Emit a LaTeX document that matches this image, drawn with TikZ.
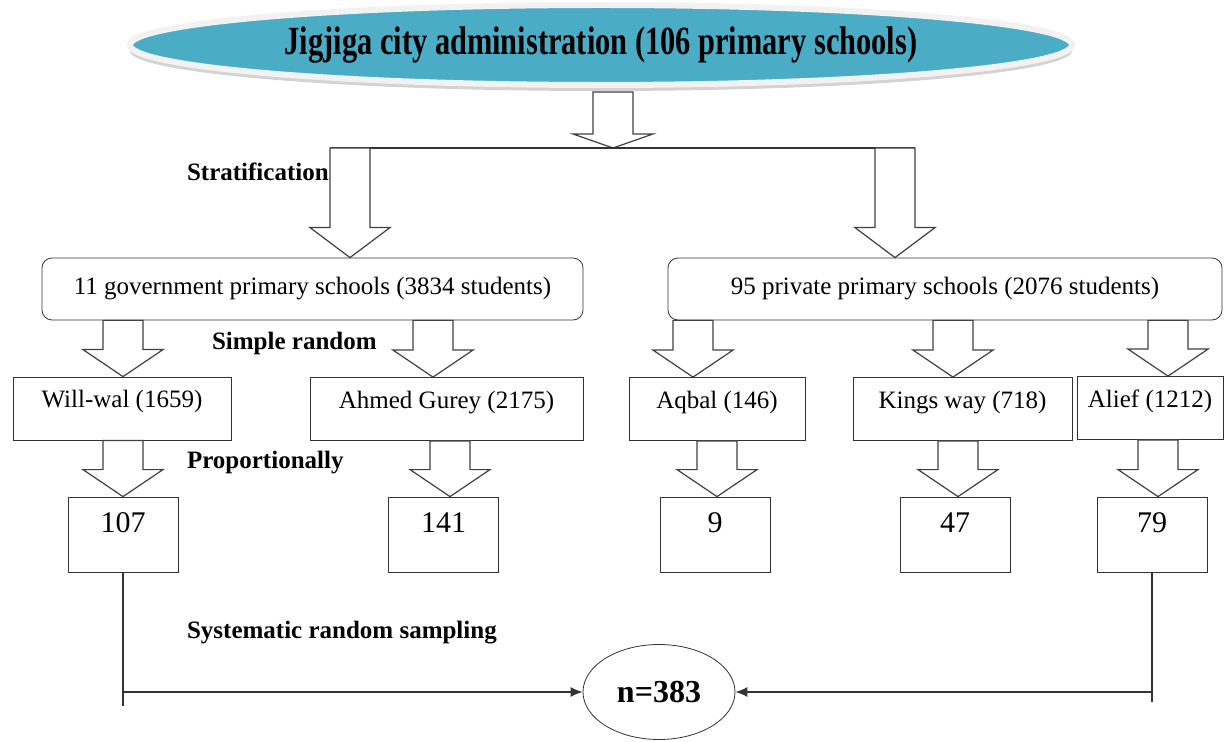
\documentclass[tikz,border=0pt]{standalone}
\usepackage{fontspec}
\setmainfont{Liberation Serif}
\usetikzlibrary{positioning, arrows.meta, calc, shapes.geometric, shadows}
\definecolor{titleblue}{RGB}{75,172,198}

% hollow down arrow: #1 head length, #2 x, #3 top point, #4 tip point
\newcommand{\hollowdown}[4][27]{%
  \coordinate (ha) at (#2,0 |- #3);
  \coordinate (hb) at (#2,0 |- #4);
  \draw[hollow] ($(ha)+(-20,0)$) -- ($(hb)+(-20,-#1)$) -- ($(hb)+(-40,-#1)$) -- (hb)
    -- ($(hb)+(40,-#1)$) -- ($(hb)+(20,-#1)$) -- ($(ha)+(20,0)$) -- cycle;
}

\begin{document}
\begin{tikzpicture}[
            x=0.5pt, y=-0.5pt,
            font=\fontsize{12.5}{15}\selectfont,
            stratum/.style={rectangle, draw=black!80, rounded corners=5pt, minimum height=31pt, inner xsep=2pt},
            school/.style={rectangle, draw=black!80, inner xsep=2pt, inner ysep=0pt, text height=15.5pt, text depth=16pt},
            sample/.style={rectangle, draw=black!80, inner xsep=2pt, inner ysep=0pt, minimum width=55pt, text height=17.5pt, text depth=20pt, font=\fontsize{15}{18}\selectfont},
            tag/.style={anchor=west, font=\bfseries\fontsize{12.5}{15}\selectfont},
            hollow/.style={draw=black!75, fill=white, line width=0.6pt},
            link/.style={draw=black!80, line width=0.6pt}
        ]
        \useasboundingbox (0,0) rectangle (1224,742);

        % Define the population and strata
        \node[ellipse, fill=titleblue, draw=gray!10, line width=3pt, minimum width=471pt, minimum height=40pt,
              drop shadow={shadow xshift=0pt, shadow yshift=-3pt, opacity=0.35}] (title) at (601,45)
              {\scalebox{0.76}[1]{\bfseries\fontsize{20}{24}\selectfont Jigjiga city administration (106 primary schools)}};
        \node[stratum, minimum width=270.5pt] (gov) at (312.5,289) {11 government primary schools (3834 students)};
        \node[stratum, minimum width=277pt] (priv) at (945,289) {95 private primary schools (2076 students)};

        % Define the selected schools
        \node[school, minimum width=109pt] (will) at (122,408.5) {Will-wal (1659)};
        \node[school, minimum width=136.5pt] (ahmed) at (446.5,409) {Ahmed Gurey (2175)};
        \node[school, minimum width=88pt] (aqbal) at (717,409) {Aqbal (146)};
        \node[school, minimum width=109.5pt] (kings) at (962.5,409) {Kings way (718)};
        \node[school, minimum width=73pt] (alief) at (1150,408) {Alief (1212)};

        % Define the samples per school
        \node[sample] (n107) at (123,534.5) {107};
        \node[sample] (n141) at (443.5,534.5) {141};
        \node[sample] (n9) at (715,534.5) {9};
        \node[sample] (n47) at (955,534.5) {47};
        \node[sample] (n79) at (1152,534.5) {79};
        \node[ellipse, draw=black!80, minimum width=76pt, minimum height=47.5pt, font=\bfseries\fontsize{16}{19}\selectfont] (total) at (659,692) {n=383};

        % Stage labels
        \node[tag] (strat) at (180,172) {Stratification};
        \node[tag] (simple) at (205,343) {Simple random};
        \node[tag] (prop) at (180,463) {Proportionally};
        \node[tag] (syst) at (180,633) {Systematic random sampling};

        % Draw the hollow arrows
        \coordinate (cap) at ([yshift=-2pt]title.south);
        \coordinate (fork) at (613,148);
        \hollowdown[14]{613}{cap}{fork}
        \draw[link] (fork -| 330,0) -- (fork -| 915,0);
        \hollowdown[30]{350}{fork}{gov.north}
        \hollowdown[30]{895}{fork}{priv.north}

        \hollowdown{123}{gov.south}{will.north}
        \hollowdown{433}{gov.south}{ahmed.north}
        \hollowdown{693}{priv.south}{aqbal.north}
        \hollowdown{953}{priv.south}{kings.north}
        \hollowdown{1168}{priv.south}{alief.north}

        \hollowdown{123}{will.south}{n107.north}
        \hollowdown{450}{ahmed.south}{n141.north}
        \hollowdown{717}{aqbal.south}{n9.north}
        \hollowdown{958}{kings.south}{n47.north}
        \hollowdown{1158}{alief.south}{n79.north}

        % Draw the lines to the total sample
        \draw[link] (n107.south) -- ($(n107.south |- total.west)+(0,14)$);
        \draw[link, -{Latex[length=6pt, width=5pt]}] (n107.south |- total.west) -- (total.west);
        \draw[link] (n79.south) -- ($(n79.south |- total.east)+(0,10)$);
        \draw[link, -{Latex[length=6pt, width=5pt]}] (n79.south |- total.east) -- (total.east);
    \end{tikzpicture}
\end{document}
